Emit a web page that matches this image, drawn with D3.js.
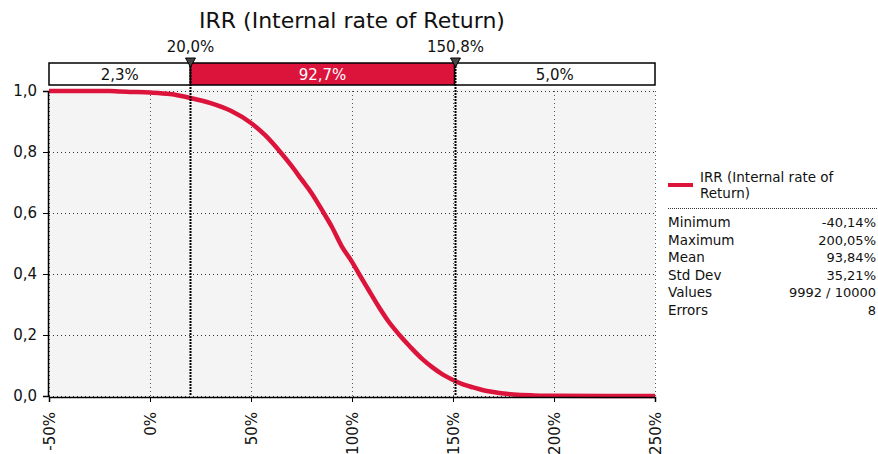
<!DOCTYPE html>
<html><head><meta charset="utf-8">
<script src="https://cdn.jsdelivr.net/npm/d3@7"></script>
<style>body{margin:0;background:#fff}svg{display:block}text{font-family:"DejaVu Sans",sans-serif}</style>
</head><body><svg id="c" width="878" height="454"></svg>
<script>
const title = "IRR (Internal rate of Return)";
const xTicks = [-50, 0, 50, 100, 150, 200, 250];
const yTicks = [0, 0.2, 0.4, 0.6, 0.8, 1.0];
const curveX = [-50,-40,-30,-20,-15,-10,0,10,20,30,40,50,57,64.5,70,75,80,86,90,95,100,103.5,108,113,118,123.5,129,135,140,145,150.8,155,160,165,170,175,180,190,200,250];
const curveY = [1,1,1,1,0.998,0.997,0.995,0.99,0.977,0.96,0.935,0.895,0.855,0.8,0.755,0.71,0.665,0.6,0.555,0.49,0.44,0.4,0.35,0.295,0.245,0.2,0.16,0.12,0.093,0.07,0.05,0.038,0.028,0.019,0.013,0.008,0.005,0.002,0.0005,0];
const markers = [20.0, 150.8];
const markerLabels = ["20,0%", "150,8%"];
const bandLabels = ["2,3%", "92,7%", "5,0%"];
const legendName = ["IRR (Internal rate of", "Return)"];
const statNames = ["Minimum","Maximum","Mean","Std Dev","Values","Errors"];
const statValues = ["-40,14%","200,05%","93,84%","35,21%","9992 / 10000","8"];

const red = "#dc143c";
const cond = "DejaVu Sans Condensed, DejaVu Sans";
const svg = d3.select("#c");
const x = d3.scaleLinear().domain([-50,250]).range([49,655]);
const y = d3.scaleLinear().domain([0,1]).range([396,91]);

svg.append("text").attr("x",352).attr("y",28).attr("text-anchor","middle").attr("font-size",22).attr("fill","#111").text(title);

// plot bg
svg.append("rect").attr("x",x(-50)).attr("y",y(1)-2).attr("width",x(250)-x(-50)).attr("height",y(0)-y(1)+2).attr("fill","#f4f4f4");

// grid
const g = svg.append("g");
g.selectAll(".vg").data(xTicks).join("line").attr("x1",d=>x(d)+0.5).attr("x2",d=>x(d)+0.5).attr("y1",y(1)).attr("y2",y(0))
  .attr("stroke","#555").attr("stroke-width",1).attr("stroke-dasharray","1,3");
g.selectAll(".hg").data(yTicks).join("line").attr("y1",d=>Math.round(y(d))+0.5).attr("y2",d=>Math.round(y(d))+0.5).attr("x1",x(-50)).attr("x2",x(250))
  .attr("stroke","#333").attr("stroke-width",1).attr("stroke-dasharray","1,3");

// curve
const pts = curveX.map((v,i)=>[v,curveY[i]]);
svg.append("path").datum(pts).attr("fill","none").attr("stroke",red).attr("stroke-width",4.5)
  .attr("d", d3.line().x(d=>x(d[0])).y(d=>y(d[1])).curve(d3.curveMonotoneX));

// axes
const ax = svg.append("g").attr("transform",`translate(0,${y(0)+1})`)
  .call(d3.axisBottom(x).tickValues(xTicks).tickSize(5).tickFormat(d=>d+"%"));
ax.select(".domain").attr("stroke","#000").attr("stroke-width",1.5);
ax.selectAll("text").attr("font-size",15).attr("fill","#111").attr("transform","rotate(-90)")
  .attr("text-anchor","end").attr("x",-15).attr("y",0).attr("dy","0.35em").attr("font-family","DejaVu Sans");
const ay = svg.append("g").attr("transform",`translate(${x(-50)-1},0)`)
  .call(d3.axisLeft(y).tickValues(yTicks).tickSize(5).tickFormat(d=>d3.format(".1f")(d).replace(".",",")));
ay.select(".domain").attr("stroke","#000").attr("stroke-width",1.5);
ay.selectAll("text").attr("font-size",15).attr("fill","#111").attr("x",-11).attr("font-family","DejaVu Sans");

// band
const bandEdges = [-50, markers[0], markers[1], 250];
const by = 63, bh = 22;
bandLabels.forEach((lab,i)=>{
  const x0 = x(bandEdges[i]), x1 = x(bandEdges[i+1]);
  svg.append("rect").attr("x",x0).attr("y",by).attr("width",x1-x0).attr("height",bh)
    .attr("fill", i===1?red:"#fff").attr("stroke","#000").attr("stroke-width",1.5);
  svg.append("text").attr("x",(x0+x1)/2).attr("y",by+bh/2+6).attr("text-anchor","middle")
    .attr("font-size",15).attr("fill", i===1?"#fff":"#111").text(lab);
});

// markers
markers.forEach((m,i)=>{
  const mx = Math.round(x(m))+0.5;
  svg.append("line").attr("x1",mx).attr("x2",mx).attr("y1",by).attr("y2",y(0)).attr("stroke","#000").attr("stroke-width",2).attr("stroke-dasharray","2,1");
  svg.append("path").attr("d",`M${mx-5},${by-5}L${mx+5},${by-5}L${mx},${by+4}Z`).attr("fill","#444").attr("stroke","#000").attr("stroke-width",1);
  svg.append("text").attr("x",mx).attr("y",52).attr("text-anchor","middle").attr("font-size",15).attr("fill","#111").text(markerLabels[i]);
});

// legend
svg.append("line").attr("x1",668).attr("x2",693).attr("y1",185).attr("y2",185).attr("stroke",red).attr("stroke-width",4);
legendName.forEach((t,i)=>svg.append("text").attr("x",700).attr("y",182+i*16).attr("font-size",13.5).attr("font-family",cond).attr("fill","#111").text(t));
svg.append("line").attr("x1",668).attr("x2",878).attr("y1",208.5).attr("y2",208.5).attr("stroke","#333").attr("stroke-dasharray","1,1");
statNames.forEach((n,i)=>{
  const yy = 227 + i*17.5;
  svg.append("text").attr("x",668).attr("y",yy).attr("font-size",13.5).attr("font-family",cond).attr("fill","#111").text(n);
  svg.append("text").attr("x",876).attr("y",yy).attr("font-size",13).attr("font-family",cond).attr("text-anchor","end").attr("fill","#111").text(statValues[i]);
});
</script></body></html>
